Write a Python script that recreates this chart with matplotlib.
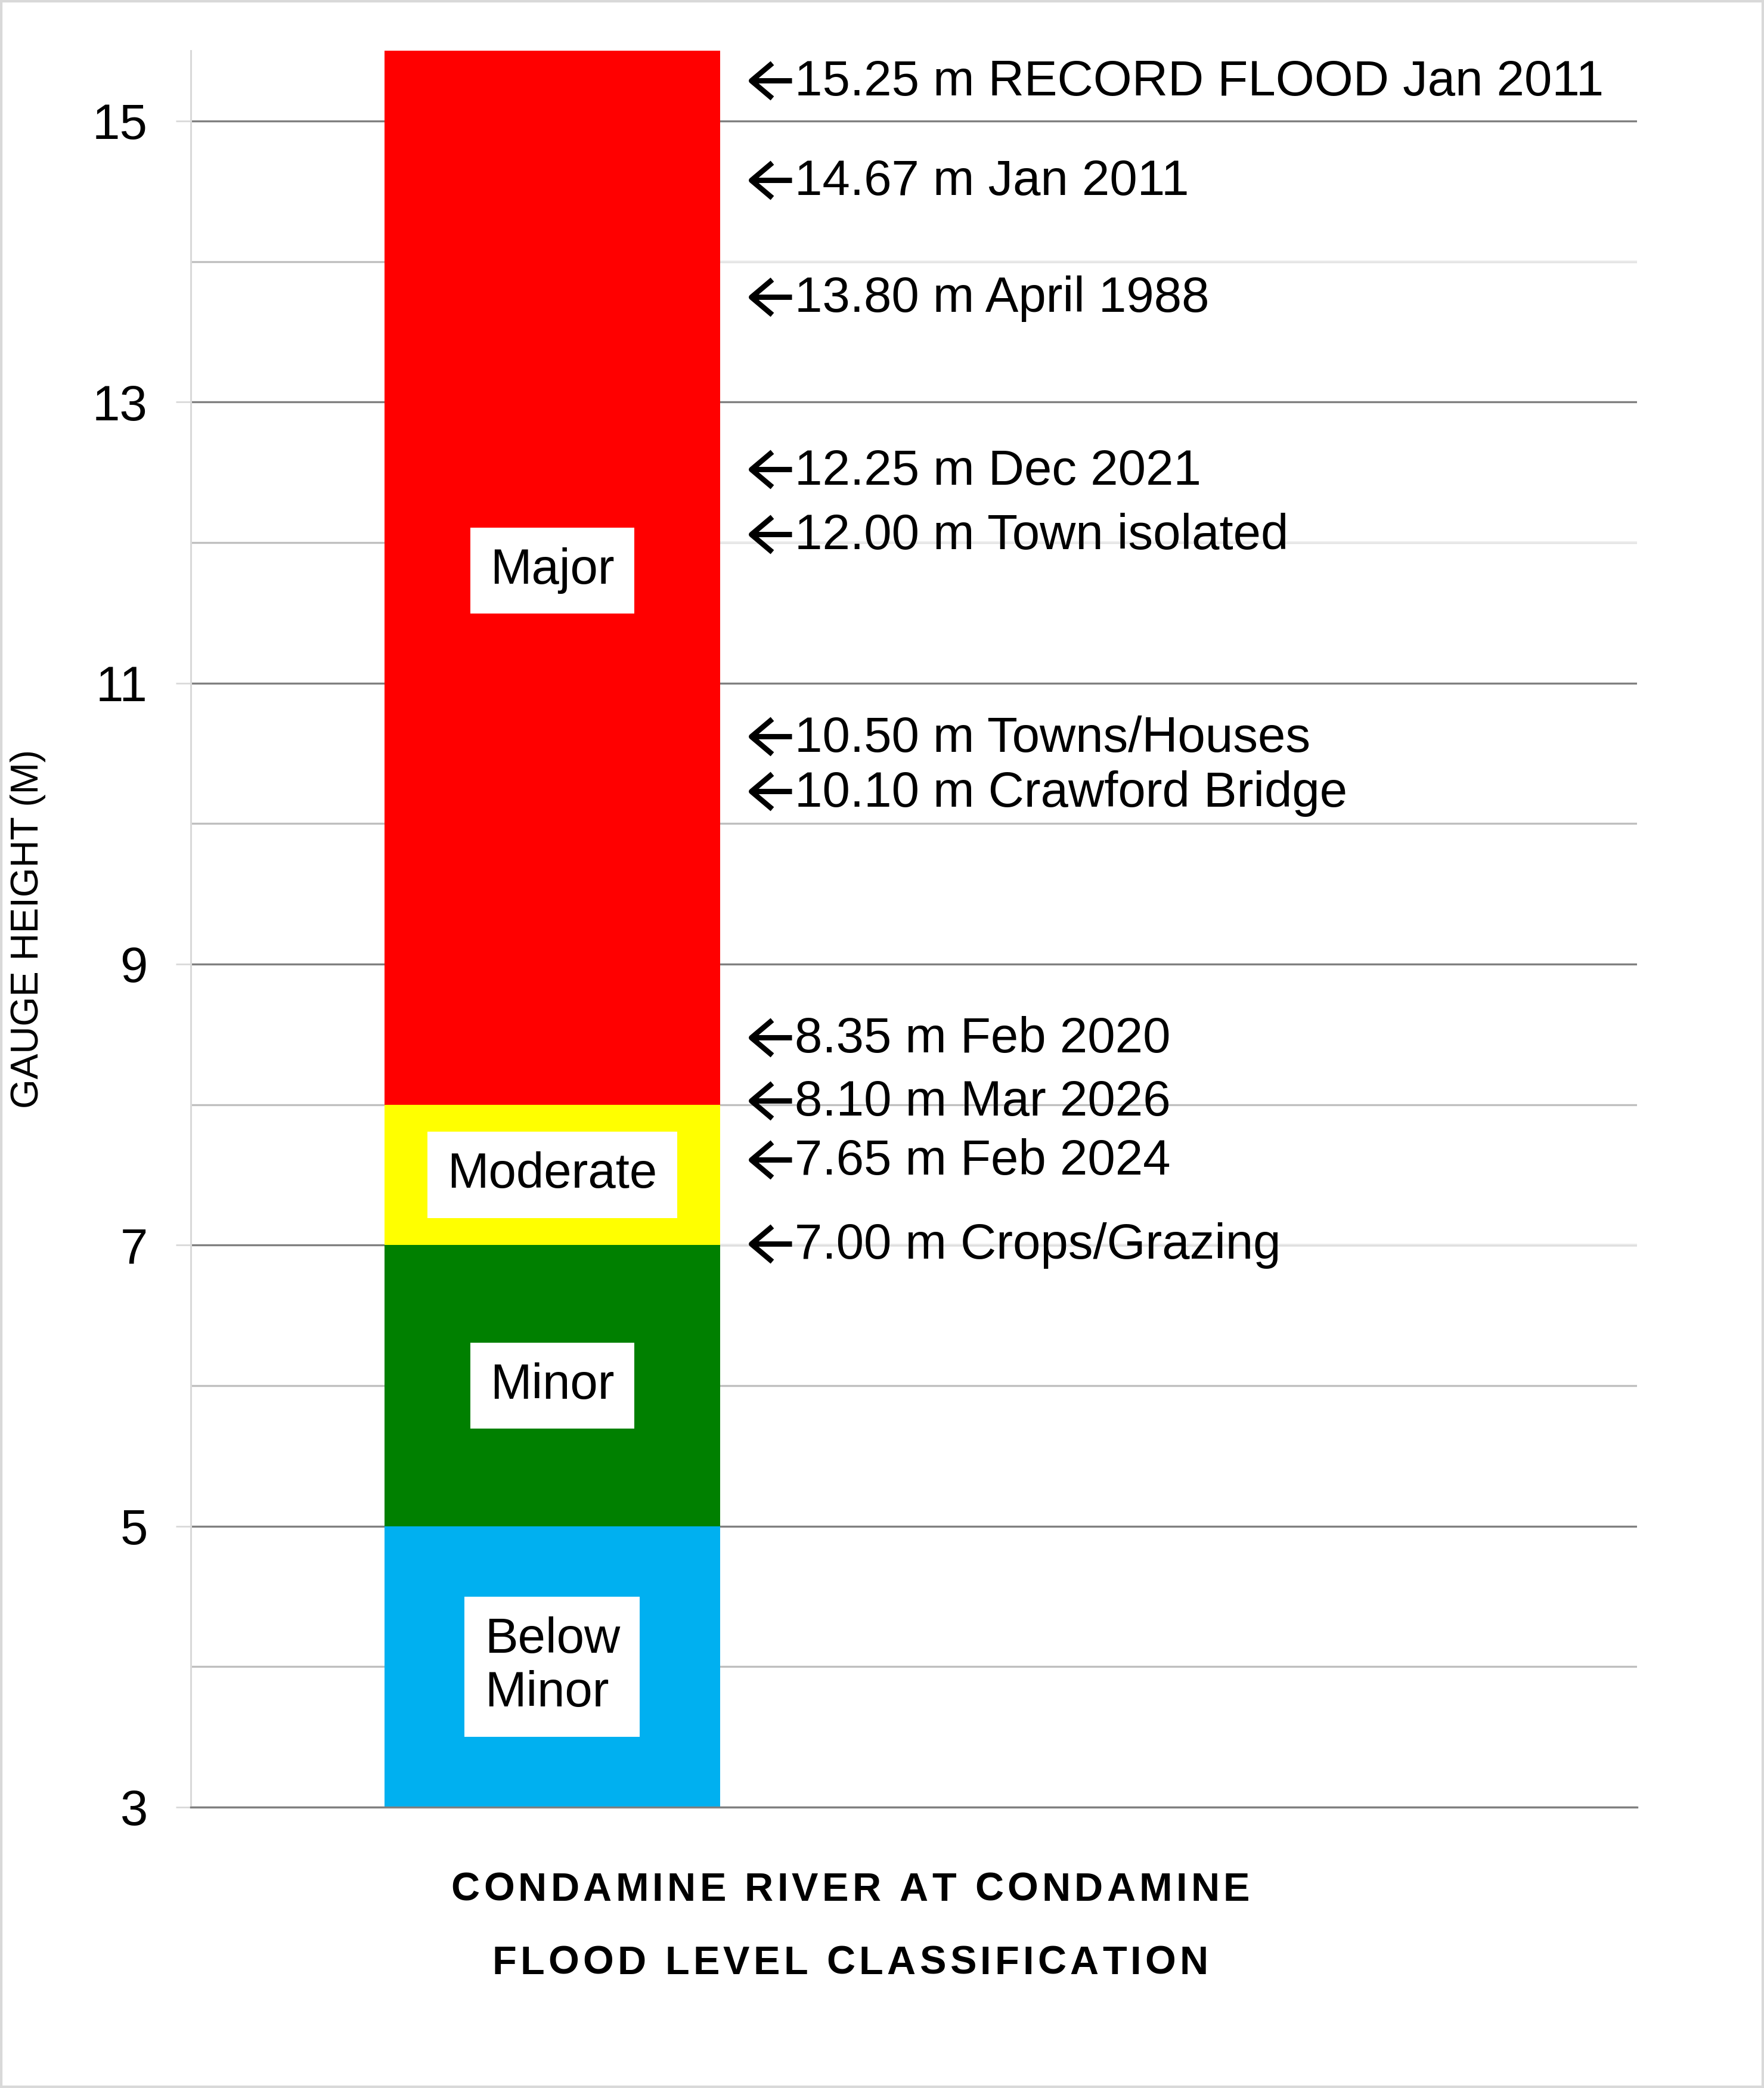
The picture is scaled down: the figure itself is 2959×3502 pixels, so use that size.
import matplotlib
matplotlib.use('Agg')
import matplotlib.pyplot as plt
from matplotlib import font_manager, ft2font
from matplotlib.font_manager import FontProperties
from matplotlib.markers import MarkerStyle
from matplotlib.patches import Rectangle
from matplotlib.path import Path

plt.rcParams['font.family'] = ['Liberation Sans', 'DejaVu Sans']

# Data
class_names = ['Below\nMinor', 'Minor', 'Moderate', 'Major']
class_bottoms = [3.0, 5.0, 7.0, 8.0]
class_tops = [5.0, 7.0, 8.0, 15.6]
class_colors = ['#00B0F0', '#008000', '#FFFF00', '#FF0000']

event_levels = [15.25, 14.67, 13.80, 12.25, 12.00, 10.50, 10.10, 8.35, 8.10, 7.65, 7.00]
event_names = ['RECORD FLOOD Jan 2011', 'Jan 2011', 'April 1988', 'Dec 2021',
               'Town isolated', 'Towns/Houses', 'Crawford Bridge', 'Feb 2020',
               'Mar 2026', 'Feb 2024', 'Crops/Grazing']
# where the text boxes sit relative to the level
event_nudge = [0.04, -0.09, -0.05, 0.27, 0.06, 0.12, 0.13, 0.13, -0.07, -0.04, 0.01]

major_ticks = [3, 5, 7, 9, 11, 13, 15]
minor_ticks = [4, 6, 8, 10, 12, 14]
faded_levels = [7, 12, 14]

title_lines = ['CONDAMINE RIVER AT CONDAMINE', 'FLOOD LEVEL CLASSIFICATION']

DPI = 200
fig = plt.figure(figsize=(2959 / DPI, 3502 / DPI), dpi=DPI)
ax = fig.add_axes([0.1081, 0.1345, 0.8199, 0.8412])

bar_x, bar_w = 0.25, 0.232
heights = [t - b for b, t in zip(class_bottoms, class_tops)]
ax.bar([bar_x] * len(heights), heights, bottom=class_bottoms, width=bar_w,
       color=class_colors, zorder=2)

ax.set_xlim(0, 1)
ax.set_ylim(3, 15.5)
ax.set_yticks(major_ticks)
ax.set_yticks(minor_ticks, minor=True)
ax.set_xticks([])
ax.grid(which='major', axis='y', color='#808080', lw=1.2, zorder=0)
ax.grid(which='minor', axis='y', color='#bfbfbf', lw=1.2, zorder=0)
ax.hlines(faded_levels, bar_x + bar_w / 2, 1, color='#e9e9e9', lw=1.3, zorder=1)
ax.set_axisbelow(True)
ax.tick_params(axis='y', which='major', length=9, width=1, color='#d9d9d9',
               labelsize=30, pad=17)
ax.tick_params(axis='y', which='minor', length=0)
for s in ['top', 'right']:
    ax.spines[s].set_visible(False)
ax.spines['left'].set_color('#d9d9d9')
ax.spines['left'].set_linewidth(1.1)
ax.spines['bottom'].set_color('#808080')
ax.spines['bottom'].set_linewidth(1.2)

# class labels in white boxes
for name, b, t in zip(class_names, class_bottoms, class_tops):
    ax.text(bar_x, (b + t) / 2, name, ha='center', va='center', fontsize=30,
            multialignment='left', linespacing=1.2, zorder=3,
            bbox=dict(boxstyle='square,pad=0.4', fc='white', ec='none'))

# event annotations: drawn arrow + text
arrow_path = Path([(1, 29.5), (-34, 0), (1, -29.5), (-34, 0), (34, 0)],
                  [Path.MOVETO, Path.LINETO, Path.LINETO, Path.MOVETO, Path.LINETO])
arrow = MarkerStyle(arrow_path, joinstyle='miter', capstyle='butt')
arrow_x = 0.4015
text_x = 0.4175
ys = [lvl + dy for lvl, dy in zip(event_levels, event_nudge)]
ax.plot([arrow_x] * len(ys), ys, ls='none', marker=arrow, ms=24.5, mew=3.2,
        mec='black', mfc='none', zorder=4, clip_on=False)
for lvl, nm, y in zip(event_levels, event_names, ys):
    ax.annotate(f'{lvl:.2f} m {nm}', (text_x, y), xytext=(0, -9.2),
                textcoords='offset points', ha='left', va='baseline',
                fontsize=30, zorder=4)

fig.text(47 / 2959, ax.get_position().y0 + ax.get_position().height / 2,
         'GAUGE HEIGHT (M)', rotation=90, ha='center', va='center', fontsize=23)


def spaced_text(s, xc, y, size, track_px):
    fp = FontProperties(family='Liberation Sans', weight='bold', size=size)
    ft = ft2font.FT2Font(font_manager.findfont(fp))
    ft.set_size(size, DPI)
    advs = [ft.load_char(ord(ch)).linearHoriAdvance / 65536 for ch in s]
    W = fig.bbox.width
    total = sum(advs) + track_px * (len(s) - 1)
    x = xc * W - total / 2
    for ch, a in zip(s, advs):
        if ch != ' ':
            fig.text(x / W, y, ch, ha='left', va='baseline', fontproperties=fp)
        x += a + track_px


spaced_text(title_lines[0], 0.482, 0.0897, 24, 6.3)
spaced_text(title_lines[1], 0.482, 0.0546, 24, 6.3)

fig.patches.append(Rectangle((0, 0), 1, 1, transform=fig.transFigure, fill=False,
                             edgecolor='#d9d9d9', lw=3))

fig.savefig('out.png', dpi=DPI, facecolor='white')
